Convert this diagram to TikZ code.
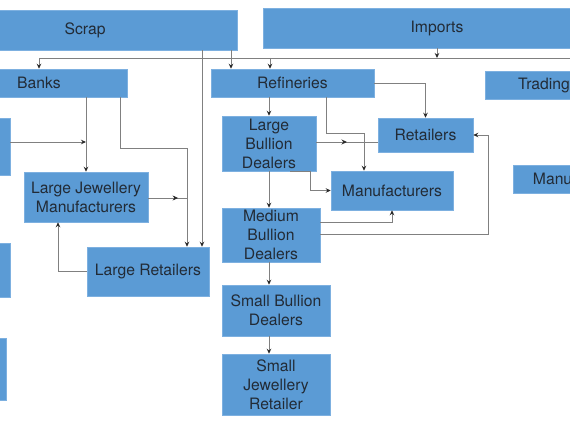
\documentclass[tikz,border=0pt]{standalone}
\usepackage{fontspec}
\setmainfont{TeX Gyre Heros}
\usetikzlibrary{arrows.meta,decorations.markings}
\definecolor{boxblue}{HTML}{5B9BD5}
\definecolor{boxedge}{HTML}{7DB0E0}
\definecolor{txt}{HTML}{222B36}
\definecolor{wire}{HTML}{808080}
\definecolor{tipc}{HTML}{2A2A2A}
\tikzset{
  blk/.style={rectangle, fill=boxblue, draw=boxedge, line width=0.5pt, inner sep=0pt,
    align=center, text=txt, font=\fontsize{15.7}{19}\selectfont},
  wirestyle/.style={draw=wire, line width=0.9pt},
  arr/.style={wirestyle, -{Stealth[length=5pt,width=4.5pt,color=tipc]}},
  midarr/.style={wirestyle, postaction={decorate},
    decoration={markings, mark=at position #1 with {\arrow{Stealth[length=5.5pt,width=5pt,color=tipc]}}}},
}
\begin{document}
\begin{tikzpicture}[x=1pt,y=-1pt]
\useasboundingbox (0,0) rectangle (570,428);
\fill[white] (0,0) rectangle (570,428);
\clip (0,0) rectangle (570,428);

% boxes
\node[blk, minimum width=304pt, minimum height=40pt] (scrap) at (85,30) {Scrap};
\node[blk, minimum width=348pt, minimum height=40pt] (imports) at (437,28) {Imports};
\node[blk, minimum width=176pt, minimum height=28pt] (banks) at (39,83) {Banks};
\node[blk, minimum width=163pt, minimum height=28pt] (refin) at (292.5,83) {Refineries};
\node[blk, minimum width=118pt, minimum height=28pt] (trading) at (544,85) {Trading};
\node[blk, minimum width=140pt, minimum height=28pt] (manr) at (583,179) {Manufacturers};
\node[blk, minimum width=40pt, minimum height=57pt] (lb1) at (-10,146.5) {};
\node[blk, minimum width=40pt, minimum height=54pt] (lb2) at (-10,270) {};
\node[blk, minimum width=40pt, minimum height=62pt] (lb3) at (-14,369) {};
\node[blk, minimum width=124pt, minimum height=50pt] (ljm) at (86,197) {Large Jewellery\\Manufacturers};
\node[blk, minimum width=122pt, minimum height=49pt] (lret) at (148,271.5) {Large Retailers};
\node[blk, minimum width=94pt, minimum height=55pt] (lbd) at (269,143.5) {Large\\Bullion\\Dealers};
\node[blk, minimum width=95pt, minimum height=34pt] (retail) at (425.5,135) {Retailers};
\node[blk, minimum width=122pt, minimum height=39pt] (manu) at (392,190.5) {Manufacturers};
\node[blk, minimum width=98pt, minimum height=54pt] (mbd) at (271,235) {Medium\\Bullion\\Dealers};
\node[blk, minimum width=108pt, minimum height=51pt] (sbd) at (276,310.5) {Small Bullion\\Dealers};
\node[blk, minimum width=108pt, minimum height=61pt] (sjr) at (276,384.5) {Small\\Jewellery\\Retailer};

% helper coordinates
\coordinate (busL) at (39,58);
\coordinate (busR) at (580,58);
\coordinate (busRef) at (270,58);
\coordinate (xa) at (231,0);
\coordinate (xb) at (202,0);
\coordinate (xc) at (86,0);
\coordinate (xd) at (120,0);
\coordinate (xe) at (187,0);
\coordinate (xf) at (58,0);
\coordinate (xg) at (326,0);
\coordinate (xh) at (364,0);
\coordinate (xm) at (290,0);
\coordinate (j1) at (86,142);
\coordinate (j2) at (187,198);
\coordinate (yk) at (0,142);
\coordinate (yn) at (0,222);
\coordinate (yp) at (0,234);

% connectors
\draw[wirestyle] (busL) -- (busR);
\draw[arr] (imports.south) -- (imports.south |- busL);
\draw[arr] (busL) -- (banks.north);
\draw[arr] (busRef) -- (busRef |- refin.north);
\draw[arr] (scrap.south -| xa) -- (refin.north -| xa);
\draw[arr] (scrap.south -| xb) -- (lret.north -| xb);
\draw[arr] (banks.south -| xc) -- (ljm.north -| xc);
\draw[arr] (lb1.east |- j1) -- (j1);
\draw[arr] (banks.south -| xd) -- ++(0,51) -| (lret.north -| xe);
\draw[midarr=0.77] (ljm.east |- j2) -- (j2);
\draw[arr] (lret.west) -| (ljm.south -| xf);
\draw[arr] (refin.south -| lbd.north) -- (lbd.north);
\draw[arr] (refin.south -| xg) -- ++(0,36) -| (manu.north -| xh);
\draw[arr] (refin.east) -| (retail.north);
\draw[midarr=0.5] (lbd.east |- yk) -- (retail.west |- yk);
\draw[arr] (lbd.south -| xm) -- ++(20,0) |- (manu.west);
\draw[arr] (lbd.south) -- (mbd.north -| lbd.south);
\draw[arr] (mbd.east |- yn) -| (manu.south);
\draw[arr] (mbd.east |- yp) -- ++(168,0) |- (retail.east);
\draw[arr] (mbd.south -| lbd.south) -- (sbd.north -| lbd.south);
\draw[arr] (sbd.south -| lbd.south) -- (sjr.north -| lbd.south);
\end{tikzpicture}
\end{document}
